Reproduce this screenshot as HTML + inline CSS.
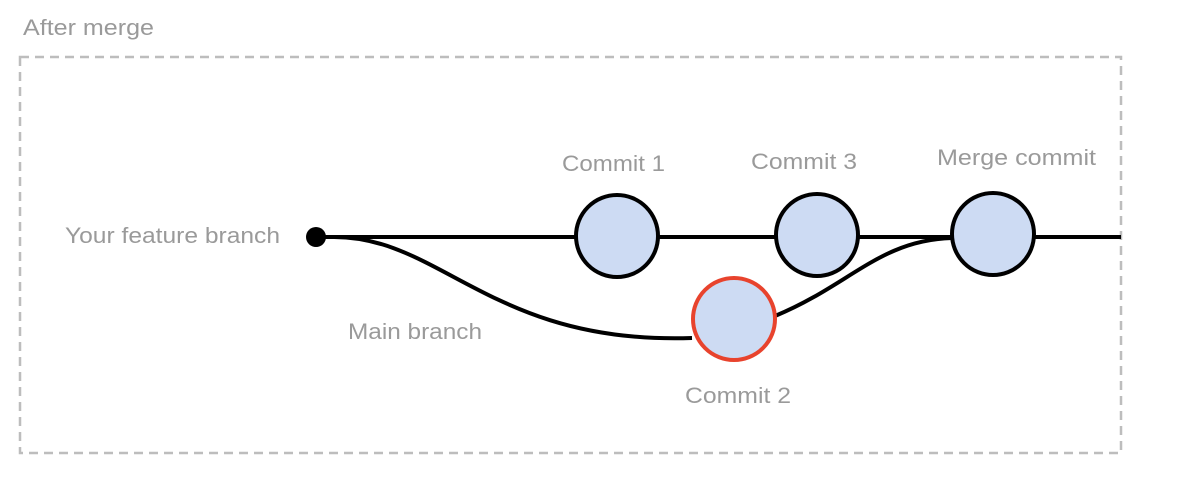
<!DOCTYPE html>
<html><head><style>
body{margin:0;background:#fff;width:1178px;height:484px;overflow:hidden}
svg text{font-family:"Liberation Sans",sans-serif;fill:#9a9a9a;font-size:22px}
</style></head><body>
<svg width="1178" height="484" viewBox="0 0 1178 484">
<text x="23" y="35" textLength="131" lengthAdjust="spacingAndGlyphs">After merge</text>
<rect x="20" y="57" width="1101" height="396" fill="none" stroke="#bdbdbd" stroke-width="2.5" stroke-dasharray="9,6"/>
<path d="M316 237 H1121" stroke="#000" stroke-width="4" fill="none"/>
<path d="M330 237 C440 234 490 345 692 338" stroke="#000" stroke-width="4" fill="none"/>
<path d="M775 316 C850 285 880 240 952 238" stroke="#000" stroke-width="4" fill="none"/>
<circle cx="316" cy="237" r="10" fill="#000"/>
<circle cx="617" cy="236" r="41" fill="#cddbf3" stroke="#000" stroke-width="4"/>
<circle cx="817" cy="235" r="41" fill="#cddbf3" stroke="#000" stroke-width="4"/>
<circle cx="993" cy="234" r="41" fill="#cddbf3" stroke="#000" stroke-width="4"/>
<circle cx="734" cy="319" r="41" fill="#cddbf3" stroke="#e8432d" stroke-width="4"/>
<text x="65" y="243" textLength="215" lengthAdjust="spacingAndGlyphs">Your feature branch</text>
<text x="348" y="339" textLength="134" lengthAdjust="spacingAndGlyphs">Main branch</text>
<text x="562" y="171" textLength="103" lengthAdjust="spacingAndGlyphs">Commit 1</text>
<text x="751" y="169" textLength="106" lengthAdjust="spacingAndGlyphs">Commit 3</text>
<text x="937" y="165" textLength="159" lengthAdjust="spacingAndGlyphs">Merge commit</text>
<text x="685" y="403" textLength="106" lengthAdjust="spacingAndGlyphs">Commit 2</text>
</svg>
</body></html>
